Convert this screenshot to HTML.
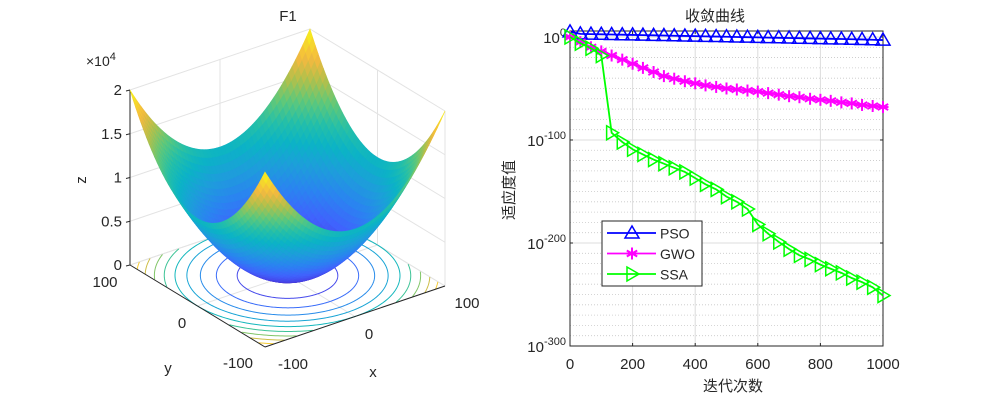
<!DOCTYPE html>
<html><head><meta charset="utf-8"><style>
html,body{margin:0;padding:0;background:#fff}
svg{display:block}
text{font-family:"Liberation Sans","Noto Sans CJK SC",sans-serif;fill:#262626}
</style></head><body>
<svg id="s" width="1000" height="400" viewBox="0 0 1000 400" xmlns="http://www.w3.org/2000/svg">
<g id="left"></g>
<g id="right"></g>
</svg>
<script>
// ---------- data for convergence chart ----------
const iters = [0,33,67,100,133,167,200,233,267,300,333,367,400,433,467,500,533,567,600,633,667,700,733,767,800,833,867,900,933,967,1000];
const psoLog = [5,3,2.8,2.6,2.4,2.2,2,1.8,1.6,1.4,1.2,1,0.8,0.6,0.4,0.2,0,-0.2,-0.4,-0.6,-0.8,-1,-1.2,-1.4,-1.6,-1.8,-2,-2.2,-2.4,-2.7,-3];
const gwoLog = [0,-5,-10,-14,-18,-22,-26,-30,-34,-38,-40.5,-43,-45,-47,-48.5,-50,-51,-52,-53,-54.5,-56,-57.5,-58.5,-60,-61,-62,-63.5,-64.5,-66,-67,-68];
const ssaLog = [0,-6,-11,-18,-93,-102,-109,-114,-119,-123,-127,-131,-137,-143,-148,-155,-160,-167,-182,-191,-199,-206,-212,-216,-221,-225,-229,-234,-238,-243,-251];
const xTicks = [0,200,400,600,800,1000];
const yTicksExp = [0,-100,-200,-300];
const zTicks = [0,0.5,1,1.5,2];

const NS="http://www.w3.org/2000/svg";
function mk(tag,attrs,parent,txt){const e=document.createElementNS(NS,tag);for(const k in attrs)e.setAttribute(k,attrs[k]);if(txt!==undefined)e.textContent=txt;parent.appendChild(e);return e;}

// ---------- right chart ----------
const R=document.getElementById('right');
const L0=570,L1=883,T=31,B=346;
const yTop=5.8,yBot=-300;
const sx=v=>L0+(v-0)/(1000-0)*(L1-L0);
const sy=v=>T+(yTop-v)/(yTop-yBot)*(B-T);
for(let e=-290;e<=0;e+=10){ if(e%100===0)continue;
  const l=mk('line',{x1:L0,x2:L1,y1:sy(e),y2:sy(e),stroke:'#c8c8c8','stroke-width':0.8,'stroke-dasharray':'1,2'},R);
  }
xTicks.forEach(t=>{const l=mk('line',{x1:sx(t),x2:sx(t),y1:T,y2:B,stroke:'#dcdcdc','stroke-width':1},R);
  });
yTicksExp.forEach(t=>{const l=mk('line',{x1:L0,x2:L1,y1:sy(t),y2:sy(t),stroke:'#dcdcdc','stroke-width':1},R);
  });
mk('rect',{x:L0,y:T,width:L1-L0,height:B-T,fill:'none',stroke:'#262626','stroke-width':1,},R);
xTicks.forEach(t=>{
  mk('line',{x1:sx(t),x2:sx(t),y1:B,y2:B-3,stroke:'#262626'},R);
  mk('line',{x1:sx(t),x2:sx(t),y1:T,y2:T+3,stroke:'#262626'},R);
  const tx=mk('text',{x:sx(t),y:B+23,'text-anchor':'middle','font-size':15},R,String(t));
  
});
yTicksExp.forEach(t=>{
  mk('line',{x1:L0,x2:L0+3,y1:sy(t),y2:sy(t),stroke:'#262626'},R);
  mk('line',{x1:L1,x2:L1-3,y1:sy(t),y2:sy(t),stroke:'#262626'},R);
  const tx=mk('text',{x:L0-4,y:sy(t)+6,'text-anchor':'end','font-size':15},R);
  
  mk('tspan',{},tx,'10');mk('tspan',{dy:-7,'font-size':11},tx,String(t));
});
mk('text',{x:715,y:21,'text-anchor':'middle','font-size':15,},R,'收敛曲线');
mk('text',{x:733,y:391,'text-anchor':'middle','font-size':15,},R,'迭代次数');
mk('text',{x:0,y:0,'text-anchor':'middle','font-size':15,transform:'translate(514,190) rotate(-90)',},R,'适应度值');

function marker(kind,x,y,col,g){
  if(kind==='tri'){mk('polygon',{points:`${x},${y-7} ${x-7},${y+5} ${x+7},${y+5}`,fill:'none',stroke:col,'stroke-width':1.5},g);}
  else if(kind==='star'){for(const a of [0,60,120]){const r=a*Math.PI/180;mk('line',{x1:x-6*Math.sin(r),y1:y-6*Math.cos(r),x2:x+6*Math.sin(r),y2:y+6*Math.cos(r),stroke:col,'stroke-width':2},g);}
    mk('line',{x1:x-5.5,x2:x+5.5,y1:y,y2:y,stroke:col,'stroke-width':2},g);}
  else {mk('polygon',{points:`${x+7},${y} ${x-5},${y-7} ${x-5},${y+7}`,fill:'none',stroke:col,'stroke-width':1.5},g);}
}
function series(name,vals,col,kind){
  const g=mk('g',{},R);
  const pts=iters.map((it,i)=>sx(it)+','+sy(vals[i])).join(' ');
  mk('polyline',{points:pts,fill:'none',stroke:col,'stroke-width':1.8},g);
  iters.forEach((it,i)=>marker(kind,sx(it),sy(vals[i]),col,g));
}
series('pso',psoLog,'#0000ff','tri');
series('gwo',gwoLog,'#ff00ff','star');
series('ssa',ssaLog,'#00ff00','rtri');
const lg=mk('g',{},R);
mk('rect',{x:602,y:221,width:100,height:65,fill:'#fff',stroke:'#262626','stroke-width':1},lg);
[['PSO','#0000ff','tri'],['GWO','#ff00ff','star'],['SSA','#00ff00','rtri']].forEach((d,i)=>{
  const y=233+i*20.5;
  const e=mk('g',{},lg);
  mk('line',{x1:607,x2:656,y1:y,y2:y,stroke:d[1],'stroke-width':1.8},e);
  marker(d[2],632,y,d[1],e);
  mk('text',{x:660,y:y+5.5,'font-size':14},e,d[0]);
});

// ---------- left 3D surface ----------
const Lg=document.getElementById('left');
const O=[287.5,275.5], ex=[0.9,-0.305], ey=[-0.675,-0.41], ez=-175/20000;
const P=(x,y,z)=>[O[0]+x*ex[0]+y*ey[0], O[1]+x*ex[1]+y*ey[1]+z*ez];
const stops=[[0,[62,38,168]],[0.08,[71,66,230]],[0.17,[64,99,253]],[0.27,[43,131,241]],[0.37,[30,157,219]],[0.47,[11,179,198]],[0.56,[36,191,169]],[0.66,[95,200,122]],[0.76,[178,192,75]],[0.86,[245,185,63]],[0.95,[245,225,39]],[1,[249,251,14]]];
function cmap(t){t=Math.max(0,Math.min(1,t));for(let i=1;i<stops.length;i++){if(t<=stops[i][0]){const a=stops[i-1],b=stops[i],f=(t-a[0])/(b[0]-a[0]);const c=a[1].map((v,k)=>Math.round(v+(b[1][k]-v)*f));return `rgb(${c})`;}}return 'rgb(249,251,14)';}
const f=(x,y)=>x*x+y*y;
const gw=mk('g',{stroke:'#e3e3e3','stroke-width':1,fill:'none'},Lg);
const ln=(a,b)=>mk('line',{x1:a[0],y1:a[1],x2:b[0],y2:b[1]},gw);
[-100,0,100].forEach(v=>{ln(P(v,100,0),P(v,100,20000));ln(P(100,v,0),P(100,v,20000));
  ln(P(v,-100,0),P(v,100,0));ln(P(-100,v,0),P(100,v,0));});
[0,5000,10000,15000,20000].forEach(z=>{ln(P(-100,100,z),P(100,100,z));ln(P(100,100,z),P(100,-100,z));});
const cg=mk('g',{fill:'none','stroke-width':1},Lg);
for(let lev=2000;lev<=20000;lev+=2000){const r=Math.sqrt(lev);let seg=[];const segs=[];
  for(let k=0;k<=360;k++){const a=k*Math.PI/180,x=r*Math.cos(a),y=r*Math.sin(a);
    if(Math.abs(x)<=100&&Math.abs(y)<=100){seg.push(P(x,y,0).join(','));}else{if(seg.length>1)segs.push(seg);seg=[];}}
  if(seg.length>1)segs.push(seg);
  segs.forEach(s=>mk('polyline',{points:s.join(' '),stroke:cmap(lev/20000)},cg));}
const ag=mk('g',{stroke:'#262626','stroke-width':1},Lg);
const la=(a,b)=>mk('line',{x1:a[0],y1:a[1],x2:b[0],y2:b[1]},ag);
la(P(-100,100,0),P(-100,100,20000));la(P(-100,100,0),P(-100,-100,0));la(P(-100,-100,0),P(100,-100,0));
const sg=mk('g',{},Lg);
const N=50,quads=[];
for(let i=0;i<N;i++)for(let j=0;j<N;j++){const x0=-100+200*i/N,x1=-100+200*(i+1)/N,y0=-100+200*j/N,y1=-100+200*(j+1)/N;
  quads.push([x0,x1,y0,y1,(x0+x1)/2+(y0+y1)/2]);}
quads.sort((a,b)=>b[4]-a[4]);
quads.forEach(q=>{const [x0,x1,y0,y1]=q;const c=[[x0,y0],[x1,y0],[x1,y1],[x0,y1]];
  const zs=c.map(p=>f(p[0],p[1]));const col=cmap((zs[0]+zs[1]+zs[2]+zs[3])/4/20000);
  mk('polygon',{points:c.map((p,k)=>P(p[0],p[1],zs[k]).join(',')).join(' '),fill:col,stroke:col,'stroke-width':0.6},sg);});
zTicks.forEach(t=>{const p=P(-100,100,t*10000);mk('line',{x1:p[0],y1:p[1],x2:p[0]-4,y2:p[1]+1,stroke:'#262626'},Lg);
  const tx=mk('text',{x:p[0]-8,y:p[1]+5,'text-anchor':'end','font-size':15},Lg,String(t));
  });
[[-100,293,369],[0,369,339],[100,467,308]].forEach(d=>{const tx=mk('text',{x:d[1],y:d[2],'text-anchor':'middle','font-size':15},Lg,String(d[0]));
  });
[[100,105,287],[0,182,328],[-100,238,368]].forEach(d=>{const tx=mk('text',{x:d[1],y:d[2],'text-anchor':'middle','font-size':15},Lg,String(d[0]));
  });
mk('text',{x:373,y:377,'text-anchor':'middle','font-size':15,},Lg,'x');
mk('text',{x:168,y:373,'text-anchor':'middle','font-size':15,},Lg,'y');
mk('text',{x:0,y:0,'text-anchor':'middle','font-size':15,transform:'translate(86,180) rotate(-90)',},Lg,'z');
const ex4=mk('text',{x:86,y:66,'font-size':14,},Lg);
mk('tspan',{},ex4,'×10');mk('tspan',{dy:-6,'font-size':11},ex4,'4');
mk('text',{x:288,y:21,'text-anchor':'middle','font-size':15,},Lg,'F1');
</script>
</body></html>
